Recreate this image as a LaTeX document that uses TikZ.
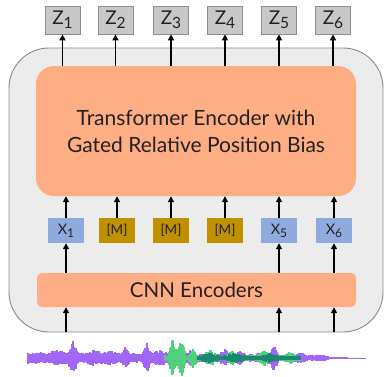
\documentclass[tikz,border=0pt]{standalone}
\usepackage{fontspec}
\setmainfont{Lato}
\usetikzlibrary{arrows.meta}
\definecolor{outerfill}{HTML}{ECECEC}
\definecolor{outerline}{HTML}{8A8A8A}
\definecolor{salmon}{HTML}{FFAD84}
\definecolor{zfill}{HTML}{C8C8C8}
\definecolor{zline}{HTML}{8C8C8C}
\definecolor{xfill}{HTML}{8FAADC}
\definecolor{mfill}{HTML}{BF9000}
\definecolor{wpurple}{HTML}{A066F5}
\definecolor{wgreen}{HTML}{52D07E}
\definecolor{wteal}{HTML}{188A70}
\definecolor{txt}{HTML}{222222}
\newcommand{\zsub}[1]{\raisebox{-0.4ex}{\fontsize{15.5}{15.5}\selectfont #1}}
\newcommand{\xsub}[1]{\raisebox{-0.45ex}{\fontsize{12}{12}\selectfont #1}}
\tikzset{
  zbox/.style={draw=zline, line width=0.8pt, fill=zfill, minimum width=35pt, minimum height=28pt, inner sep=0pt, font=\fontsize{19}{19}\selectfont, text=txt},
  xbox/.style={fill=xfill, minimum width=36pt, minimum height=25pt, inner sep=0pt, font=\fontsize{14.5}{14.5}\selectfont, text=txt},
  mbox/.style={fill=mfill, minimum width=36pt, minimum height=25pt, inner sep=0pt, font=\fontsize{13.5}{13.5}\selectfont, text=txt},
  arr/.style={line width=1.7pt, -{Triangle[length=6pt,width=6pt]}},
  wave/.style={line width=1.15pt},
}
\begin{document}
\begin{tikzpicture}[x=1pt,y=-1pt]
\useasboundingbox (0,0) rectangle (385,376);
% outer box
\node[draw=outerline, line width=0.9pt, fill=outerfill, rounded corners=40pt, minimum width=374pt, minimum height=284pt, inner sep=0pt] (outer) at (196,190) {};
% transformer
\node[fill=salmon, rounded corners=18pt, minimum width=320pt, minimum height=130pt, inner sep=0pt, align=center, text=txt, font=\fontsize{21}{27}\selectfont] (tr) at (196,131) {Transformer Encoder with\\Gated Relative Position Bias};
% CNN
\node[fill=salmon, rounded corners=5pt, minimum width=319pt, minimum height=34pt, inner sep=0pt, text=txt, font=\fontsize{20.5}{20.5}\selectfont] (cnn) at (196.5,290) {CNN Encoders};
% Z boxes
\node[zbox] (z1) at (62.5,20) {Z\zsub{1}};
\node[zbox] (z2) at (115.5,20) {Z\zsub{2}};
\node[zbox] (z3) at (171,20) {Z\zsub{3}};
\node[zbox] (z4) at (225,20) {Z\zsub{4}};
\node[zbox] (z5) at (279,20) {Z\zsub{5}};
\node[zbox] (z6) at (333,20) {Z\zsub{6}};
% X / M boxes
\node[xbox] (x1) at (66,230.5) {X\xsub{1}};
\node[mbox] (m2) at (117,230.5) {[M]};
\node[mbox] (m3) at (171,230.5) {[M]};
\node[mbox] (m4) at (225,230.5) {[M]};
\node[xbox] (x5) at (279,230.5) {X\xsub{5}};
\node[xbox] (x6) at (334,230.5) {X\xsub{6}};
% arrows transformer -> Z
\foreach \z in {z1,z2,z3,z4,z5,z6}{
  \draw[arr] (\z |- tr.north) -- (\z.south);
}
% arrows X/M -> transformer
\foreach \n in {x1,m2,m3,m4,x5,x6}{
  \draw[arr] (\n.north) -- (\n |- tr.south);
}
% arrows CNN -> X
\foreach \n in {x1,x5,x6}{
  \draw[arr] (\n |- cnn.north) -- (\n.south);
}
% arrows input -> CNN
\foreach \n in {x1,x5,x6}{
  \coordinate (in\n) at (\n |- outer.south);
  \draw[arr] (in\n) -- (\n |- cnn.south);
}
% waveform
\pgfmathsetseed{11}
\foreach \x in {28,...,365}{
  \pgfmathsetmacro{\e}{6 - 1*max(0,(\x-28)/100) - 3*max(0,(\x-300)/65)
    + 12*max(0,1-abs(\x-73)/6) + 3*max(0,1-abs(\x-58)/10) + 3*max(0,1-abs(\x-95)/10)
    + 3*max(0,1-abs(\x-110)/8) + 6*max(0,1-abs(\x-125)/5) + 12*max(0,1-abs(\x-147)/5)
    + 4*max(0,1-abs(\x-160)/10) + 4*max(0,1-abs(\x-190)/6) + 5*max(0,1-abs(\x-225)/6)
    + 4*max(0,1-abs(\x-240)/6) + 4*max(0,1-abs(\x-262)/6) + 12*max(0,1-abs(\x-274)/5)
    + 3*max(0,1-abs(\x-300)/8) + 2*max(0,1-abs(\x-320)/8)}
  \pgfmathsetmacro{\u}{\e*(0.6+0.4*rnd)}
  \pgfmathsetmacro{\d}{\e*(0.6+0.4*rnd)}
  \draw[wave, wpurple] (\x,358-\u) -- (\x,358+\d);
}
\foreach \x in {165,...,300}{
  \pgfmathsetmacro{\e}{3
    + 16*max(0,1-abs(\x-172)/4) + 16*max(0,1-abs(\x-182)/4) + 6*max(0,1-abs(\x-177)/9)
    + 8*max(0,1-abs(\x-193)/5) + 6*max(0,1-abs(\x-210)/8) + 5*max(0,1-abs(\x-232)/6)
    + 6*max(0,1-abs(\x-265)/8) + 4*max(0,1-abs(\x-290)/6)}
  \pgfmathsetmacro{\u}{\e*(0.6+0.4*rnd)}
  \pgfmathsetmacro{\d}{\e*(0.6+0.4*rnd)}
  \draw[wave, wgreen] (\x,358-\u) -- (\x,358+\d);
}
\foreach \x in {198,...,300}{
  \pgfmathsetmacro{\e}{2.5 + 3*max(0,1-abs(\x-210)/10) + 3*max(0,1-abs(\x-235)/12) + 3*max(0,1-abs(\x-270)/10)}
  \pgfmathsetmacro{\u}{\e*(0.6+0.4*rnd)}
  \pgfmathsetmacro{\d}{\e*(0.6+0.4*rnd)}
  \draw[wave, wteal] (\x,358-\u) -- (\x,358+\d);
}
\end{tikzpicture}
\end{document}
